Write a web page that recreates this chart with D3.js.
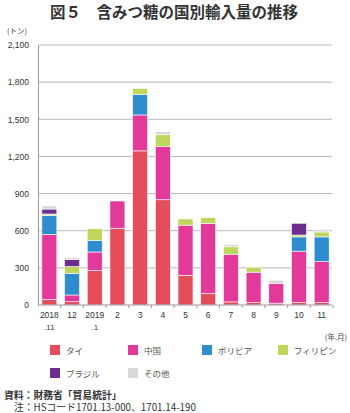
<!DOCTYPE html>
<html lang="ja">
<head>
<meta charset="utf-8">
<script src="https://cdn.jsdelivr.net/npm/d3@7"></script>
<style>
  html, body { margin: 0; padding: 0; background: #fff; }
  svg { display: block; }
  text { font-family: "Liberation Sans", "Noto Sans CJK JP", sans-serif; }
  .jp { font-family: "Noto Sans CJK JP", sans-serif; }
</style>
</head>
<body>
<svg id="chart" width="350" height="413"></svg>
<script>
// Monthly imports of non-centrifugal sugar by country (tonnes)
const periods = ["2018.11","2018.12","2019.1","2019.2","2019.3","2019.4","2019.5","2019.6","2019.7","2019.8","2019.9","2019.10","2019.11"];
const tickTop    = ["2018","12","2019","2","3","4","5","6","7","8","9","10","11"];
const tickBottom = [".11","",".1","","","","","","","","","",""];

const thai        = [45, 27, 280, 620, 1245, 850, 240, 95, 25, 20, 15, 20, 20];
const china       = [525, 54, 148, 220, 290, 430, 405, 565, 385, 245, 160, 415, 330];
const bolivia     = [155, 175, 94, 0, 165, 0, 0, 0, 0, 0, 0, 115, 200];
const philippines = [10, 54, 94, 0, 50, 95, 50, 45, 60, 40, 0, 15, 40];
const brazil      = [40, 59, 0, 0, 0, 0, 0, 0, 0, 0, 0, 95, 0];
const others      = [25, 16, 0, 0, 0, 25, 0, 0, 20, 0, 25, 0, 20];

const seriesNames  = ["タイ", "中国", "ボリビア", "フィリピン", "ブラジル", "その他"];
const seriesValues = [thai, china, bolivia, philippines, brazil, others];
const seriesColors = ["#e64d5a", "#e2399a", "#2e8ccf", "#bdd65b", "#6b2e8f", "#d9d9d9"];

const yTicks = [0, 300, 600, 900, 1200, 1500, 1800, 2100];

const svg = d3.select("#chart");

// Title
svg.append("text")
  .attr("class", "jp")
  .attr("x", 174).attr("y", 18)
  .attr("text-anchor", "middle")
  .attr("font-size", 15.5).attr("font-weight", "bold")
  .attr("fill", "#333")
  .text("図５　含みつ糖の国別輸入量の推移");

const x = d3.scaleBand().domain(periods).range([38, 333]).paddingInner(0.34).paddingOuter(0.17);
const y = d3.scaleLinear().domain([0, 2100]).range([305, 45]);

// Unit label
svg.append("text").attr("class", "jp")
  .attr("x", 7).attr("y", 34)
  .attr("font-size", 7.5).attr("fill", "#444")
  .text("(トン)");

// Horizontal grid
svg.append("g").selectAll("line").data(yTicks.filter(d => d > 0)).join("line")
  .attr("x1", 38).attr("x2", 332)
  .attr("y1", d => y(d)).attr("y2", d => y(d))
  .attr("stroke", "#b8b8b8").attr("stroke-width", 1);

// Y axis
const yAxis = svg.append("g").attr("transform", "translate(38,0)")
  .call(d3.axisLeft(y).tickValues(yTicks).tickSize(0).tickPadding(9).tickFormat(d3.format(",")));
yAxis.select(".domain").attr("stroke", "#999");
yAxis.selectAll("text").attr("font-size", 8.5).attr("fill", "#333");

// Stacked bars
const rows = periods.map((p, i) => {
  const r = { period: p };
  seriesNames.forEach((n, k) => { r[n] = seriesValues[k][i]; });
  return r;
});
const stacked = d3.stack().keys(seriesNames)(rows);

svg.append("g").selectAll("g").data(stacked).join("g")
  .attr("fill", (d, k) => seriesColors[k])
  .selectAll("rect").data(d => d.filter(s => s[1] - s[0] > 0)).join("rect")
  .attr("x", d => x(d.data.period))
  .attr("width", x.bandwidth())
  .attr("y", d => y(d[1]))
  .attr("height", d => y(d[0]) - y(d[1]))
  .attr("stroke", "#fff").attr("stroke-width", 0.6);

// Baseline and category ticks
svg.append("line").attr("x1", 38).attr("x2", 332).attr("y1", y(0)).attr("y2", y(0))
  .attr("stroke", "#999").attr("stroke-width", 1);
const step = x.step();
svg.append("g").selectAll("line").data(periods).join("line")
  .attr("x1", d => x(d) + x.bandwidth() / 2 + step / 2)
  .attr("x2", d => x(d) + x.bandwidth() / 2 + step / 2)
  .attr("y1", y(0)).attr("y2", y(0) + 3)
  .attr("stroke", "#999");

// Category labels (two lines)
const lab = svg.append("g").selectAll("g").data(periods).join("g")
  .attr("transform", d => `translate(${x(d) + x.bandwidth() / 2},0)`);
lab.append("text").attr("y", 318).attr("text-anchor", "middle")
  .attr("font-size", 8.5).attr("fill", "#333")
  .text((d, i) => tickTop[i]);
lab.append("text").attr("y", 330).attr("text-anchor", "middle")
  .attr("font-size", 8).attr("fill", "#333")
  .text((d, i) => tickBottom[i]);

svg.append("text").attr("class", "jp")
  .attr("x", 347).attr("y", 340).attr("text-anchor", "end")
  .attr("font-size", 7.5).attr("fill", "#444")
  .text("(年.月)");

// Legend
const legendPos = [[50, 350], [128, 350], [202, 350], [278, 350], [50, 373], [128, 373]];
const lg = svg.append("g").selectAll("g").data(seriesNames).join("g")
  .attr("transform", (d, i) => `translate(${legendPos[i][0]},${legendPos[i][1]})`);
lg.append("rect").attr("x", 0).attr("y", -5).attr("width", 10).attr("height", 10)
  .attr("fill", (d, i) => seriesColors[i]);
lg.append("text").attr("class", "jp").attr("x", 16).attr("y", 3.5)
  .attr("font-size", 8.5).attr("fill", "#555")
  .text(d => d);

// Source and note
svg.append("text").attr("class", "jp")
  .attr("x", 4).attr("y", 398.5)
  .attr("font-size", 9.8).attr("font-weight", "bold").attr("fill", "#333")
  .text("資料：財務省「貿易統計」");
svg.append("text").attr("class", "jp")
  .attr("x", 14).attr("y", 411)
  .attr("font-size", 9.8).attr("fill", "#333")
  .text("注：HSコード1701.13-000、1701.14-190");
</script>
</body>
</html>
